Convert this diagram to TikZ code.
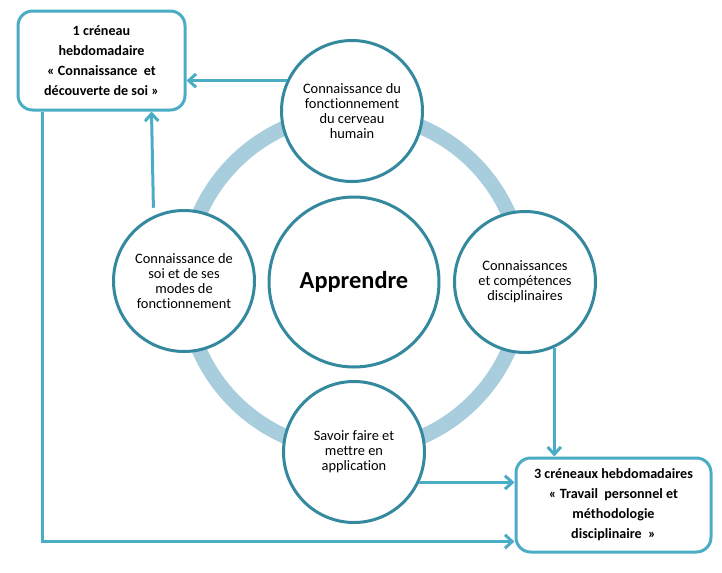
\documentclass[tikz,border=0pt]{standalone}
\usepackage{fontspec}
\setmainfont[Ligatures=NoCommon]{Carlito}
\usetikzlibrary{arrows.meta}
\definecolor{arrowblue}{RGB}{75,172,198}
\definecolor{circedge}{RGB}{52,137,158}
\definecolor{ringblue}{RGB}{168,205,221}
\begin{document}
\begin{tikzpicture}[x=0.75pt,y=-0.75pt,
  bubble/.style={circle,draw=circedge,line width=2.25pt,fill=white,inner sep=0pt,
    minimum size=105.75pt,align=center,font=\fontsize{10.8}{11.25}\selectfont},
  bigbubble/.style={bubble,minimum size=127.5pt,font=\fontsize{18.3}{20}\selectfont\bfseries},
  slotbox/.style={rectangle,rounded corners=11pt,draw=arrowblue,line width=2.25pt,fill=white,
    align=center,inner sep=0pt,font=\fontsize{10.6}{15}\selectfont\bfseries},
  arr/.style={draw=arrowblue,line width=2.25pt,-{Straight Barb[length=5.5pt,width=10pt]}}]
\useasboundingbox (0,0) rectangle (722,572);
% ring
\draw[ringblue,line width=11.25pt] (354,282) circle[radius=126.75pt];
% nodes
\node[bigbubble] (app) at (354,282) {Apprendre};
\node[bubble] (top) at (352,111) {Connaissance du\\fonctionnement\\du cerveau\\humain};
\node[bubble] (left) at (184,281) {Connaissance de\\soi et de ses\\modes de\\fonctionnement};
\node[bubble] (right) at (525,282) {Connaissances\\et compétences\\disciplinaires};
\node[bubble] (bot) at (354,452) {Savoir faire et\\mettre en\\application};
\node[slotbox,minimum width=125.25pt,minimum height=74.25pt] (tl) at (101.5,60.5)
  {1 créneau\\hebdomadaire\\«~Connaissance~ et\\découverte de soi~»};
\node[slotbox,minimum width=146.25pt,minimum height=70.5pt] (br) at (613.5,505)
  {3 créneaux hebdomadaires\\«~Travail~ personnel et\\méthodologie\\disciplinaire~~»};
% connectors
\draw[arr] (top.155) -- (top.155 -| tl.east);
\draw[arr,shorten <=6pt] (left.115) -- ([xshift=37.5pt]tl.south);
\draw[arr] ([xshift=19.5pt]tl.south west) |- ([yshift=9pt]br.south west);
\draw[arr] (right.-66) -- (right.-66 |- br.north);
\draw[arr] (bot.-25) -- (bot.-25 -| br.west);
\end{tikzpicture}
\end{document}
